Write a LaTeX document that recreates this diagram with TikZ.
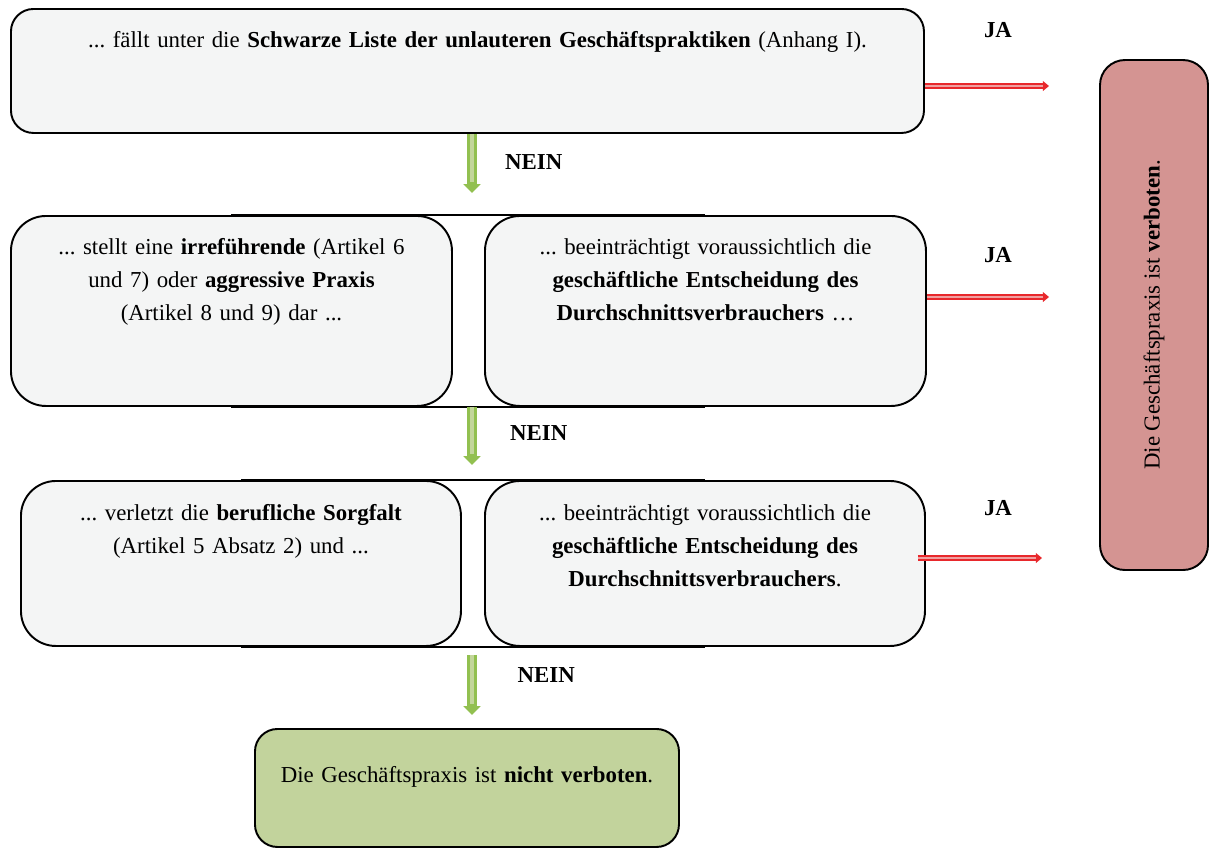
\documentclass[tikz,border=0pt]{standalone}
\usepackage{fontspec}
\setmainfont{Liberation Serif}
\usepackage{tikz}
\usetikzlibrary{arrows.meta,positioning}

\definecolor{boxgray}{RGB}{244,245,245}
\definecolor{arrgreen}{RGB}{146,192,80}
\definecolor{arrlight}{RGB}{195,214,155}
\definecolor{endgreen}{RGB}{194,211,156}
\definecolor{verbred}{RGB}{212,148,146}
\definecolor{arrred}{RGB}{232,40,44}
\definecolor{arrpink}{RGB}{240,160,160}
\newcommand{\boxfont}{\fontsize{13}{18.7}\selectfont}
\frenchspacing

\begin{document}
\begin{tikzpicture}[
		box/.style={draw, line width=1.1pt, fill=boxgray, rounded corners=0.45cm, align=center, inner xsep=0.2cm, inner ysep=0pt, anchor=north west, font=\boxfont},
		pairbox/.style={box, rounded corners=0.7cm},
		nein/.style={font=\boxfont\bfseries},
		greenarr/.style={draw=arrgreen, line width=5.5pt, shorten >=#1, -{Triangle[width=9.5pt,length=5pt]}, postaction={draw=arrlight, line width=2.6pt, shorten >=#1+6pt, -}},
		redarr/.style={draw=arrred, line width=3.2pt, shorten >=#1, -{Triangle[width=5.5pt,length=3.5pt]}, postaction={draw=arrpink, line width=1.2pt, shorten >=#1+3.5pt, -}}
	]
	\useasboundingbox (0,0) rectangle (24.2,-16.96);

	% Boxes
	\node (black) [box, text width=17.86cm, text height=0.78cm, text depth=1.7cm] at (0.2,-0.16)
		{\hspace*{0.4cm}... fällt unter die \textbf{Schwarze Liste der unlauteren Geschäftspraktiken} (Anhang I).};

	\node (irrL) [pairbox, text width=8.42cm, text height=0.78cm, text depth=3.02cm] at (0.2,-4.3)
		{... stellt eine \textbf{irreführende} (Artikel 6\\ und 7) oder \textbf{aggressive Praxis}\\ (Artikel 8 und 9) dar ...};
	\node (irrR) [pairbox, text width=8.42cm, text height=0.78cm, text depth=3.02cm] at (9.68,-4.3)
		{... beeinträchtigt voraussichtlich die\\ \textbf{geschäftliche Entscheidung des}\\ \textbf{Durchschnittsverbrauchers} …};

	\node (sorgL) [pairbox, text width=8.4cm, text height=0.8cm, text depth=2.5cm] at (0.4,-9.6)
		{... verletzt die \textbf{berufliche Sorgfalt}\\ (Artikel 5 Absatz 2) und ...};
	\node (sorgR) [pairbox, text width=8.4cm, text height=0.8cm, text depth=2.5cm] at (9.68,-9.6)
		{... beeinträchtigt voraussichtlich die\\ \textbf{geschäftliche Entscheidung des}\\ \textbf{Durchschnittsverbrauchers}.};

	\node (erlaubt) [box, fill=endgreen, text width=8.08cm, text height=1.08cm, text depth=1.28cm] at (5.08,-14.56)
		{Die Geschäftspraxis ist \textbf{nicht verboten}.};

	\node (verboten) [draw, line width=1.1pt, fill=verbred, rounded corners=0.5cm, rotate=90, minimum width=10.2cm, minimum height=2.16cm, font=\boxfont] at (23.08,-6.3)
		{\raisebox{0.1cm}{Die Geschäftspraxis ist \textbf{verboten}.}};

	% joining lines of the pairs
	\draw [line width=1.1pt] (irrL.north) -- (irrR.north);
	\draw [line width=1.1pt] (irrL.south) -- (irrR.south);
	\draw [line width=1.1pt] (sorgL.north) -- (sorgR.north);
	\draw [line width=1.1pt] (sorgL.south) -- (sorgR.south);

	% NEIN arrows
	\coordinate (gap) at (9.44,0);
	\draw [greenarr=0.44cm] (black.south -| gap) -- (irrL.north -| gap)
		node (nein1) [nein, pos=0.35, right=0.45cm] {NEIN};
	\draw [greenarr=0.3cm] (irrL.south -| gap) -- (sorgL.north -| gap)
		node (nein2) [nein, pos=0.35, right=0.55cm] {NEIN};
	\draw [greenarr=0.26cm, shorten <=0.16cm] (sorgL.south -| gap) -- (erlaubt.north -| gap)
		node (nein3) [nein, pos=0.35, right=0.7cm] {NEIN};

	% JA arrows
	\coordinate (ja1) at (0,-1.72);
	\coordinate (ja2) at (0,-5.94);
	\coordinate (ja3) at (0,-11.16);
	\draw [redarr=1cm] (black.east |- ja1) -- (verboten.north |- ja1);
	\draw [redarr=1cm] (irrR.east |- ja2) -- (verboten.north |- ja2);
	\draw [redarr=1.14cm, shorten <=-0.16cm] (sorgR.east |- ja3) -- (verboten.north |- ja3);
	\node (jaA) [nein] at (19.96,-0.6) {JA};
	\node (jaB) [nein] at (19.96,-5.1) {JA};
	\node (jaC) [nein] at (19.96,-10.16) {JA};
\end{tikzpicture}
\end{document}
